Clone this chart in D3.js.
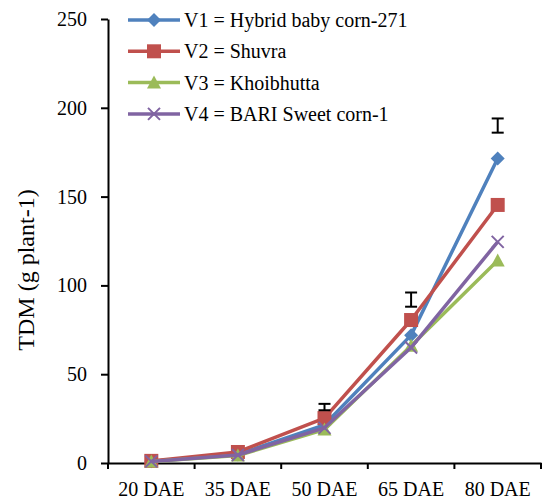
<!DOCTYPE html>
<html>
<head>
<meta charset="utf-8">
<script src="https://cdn.jsdelivr.net/npm/d3@7"></script>
<style>
  body { margin: 0; }
  text { font-family: "Liberation Serif", "Times New Roman", serif; }
</style>
</head>
<body>
<script>
const categories = ["20 DAE", "35 DAE", "50 DAE", "65 DAE", "80 DAE"]
const seriesNames = ["V1 = Hybrid baby corn-271", "V2 = Shuvra", "V3 = Khoibhutta", "V4 = BARI Sweet corn-1"]
const v1 = [1.0, 4.8, 21.5, 72, 171.5]
const v2 = [1.2, 6.2, 25.3, 80.5, 145.3]
const v3 = [0.8, 4.2, 18.8, 66, 114]
const v4 = [0.9, 4.5, 19.8, 65, 124.5]
// error bars (LSD) drawn above the points
const errCats = ["50 DAE", "65 DAE", "80 DAE"]
const errMid = [31.5, 92, 190]
const errHalf = [1.8, 4, 4]
const yTicks = [0, 50, 100, 150, 200, 250]

const colors = ["#4F81BD", "#C0504D", "#9BBB59", "#8064A2"]
const shapes = ["diamond", "square", "triangle", "cross"]

const width = 542, height = 501
const margin = {left: 108, right: 1, top: 19, bottom: 38}

const svg = d3.select("body").append("svg")
    .attr("width", width)
    .attr("height", height)

const x = d3.scaleBand()
    .domain(categories)
    .range([margin.left, width - margin.right])

const y = d3.scaleLinear()
    .domain([0, 250])
    .range([height - margin.bottom, margin.top])

// x axis, ticks sit on the category boundaries
let xAxis = svg.append("g")
    .attr("transform", `translate(0,${height - margin.bottom})`)
    .call(d3.axisBottom(x).tickSizeInner(0).tickSizeOuter(0).tickPadding(19))
xAxis.attr("font-family", null).attr("font-size", null)
xAxis.select(".domain").attr("stroke", "#000").attr("stroke-width", 2)
xAxis.selectAll("text")
    .attr("fill", "#000")
    .attr("font-family", "Liberation Serif")
    .attr("font-size", 20)
xAxis.selectAll(".bound")
    .data(categories.map(c => x(c)).concat([x.range()[1]]))
    .join("line")
    .attr("x1", d => d).attr("x2", d => d)
    .attr("y1", 0).attr("y2", 6)
    .attr("stroke", "#000").attr("stroke-width", 2)

let yAxis = svg.append("g")
    .attr("transform", `translate(${margin.left},0)`)
    .call(d3.axisLeft(y).tickValues(yTicks).tickSizeInner(7).tickSizeOuter(0).tickPadding(14))
yAxis.attr("font-family", null).attr("font-size", null)
yAxis.select(".domain").attr("stroke", "#000").attr("stroke-width", 2)
yAxis.selectAll(".tick line").attr("stroke", "#000").attr("stroke-width", 2)
yAxis.selectAll("text")
    .attr("fill", "#000")
    .attr("font-family", "Liberation Serif")
    .attr("font-size", 20)

svg.append("text")
    .attr("transform", "translate(34,270) rotate(-90)")
    .attr("text-anchor", "middle")
    .attr("font-family", "Liberation Serif")
    .attr("font-size", 24)
    .text("TDM (g plant-1)")

const cx = c => x(c) + x.bandwidth() / 2

const line = d3.line()
    .x((d, i) => cx(categories[i]))
    .y(d => y(d))

function marker(g, shape, color, px, py) {
    if (shape == "diamond") {
        g.append("path")
            .attr("d", `M${px},${py - 7}L${px + 7},${py}L${px},${py + 7}L${px - 7},${py}Z`)
            .attr("fill", color)
    } else if (shape == "square") {
        g.append("rect")
            .attr("x", px - 7).attr("y", py - 7)
            .attr("width", 14).attr("height", 14)
            .attr("fill", color)
    } else if (shape == "triangle") {
        g.append("path")
            .attr("d", `M${px},${py - 7}L${px + 7},${py + 6}L${px - 7},${py + 6}Z`)
            .attr("fill", color)
    } else {
        g.append("path")
            .attr("d", `M${px - 6},${py - 6}L${px + 6},${py + 6}M${px + 6},${py - 6}L${px - 6},${py + 6}`)
            .attr("stroke", color)
            .attr("stroke-width", 2)
    }
}

const allSeries = [v1, v2, v3, v4]
allSeries.forEach((vals, k) => {
    let g = svg.append("g")
    g.append("path")
        .attr("d", line(vals))
        .attr("fill", "none")
        .attr("stroke", colors[k])
        .attr("stroke-width", 3.5)
        .attr("stroke-linejoin", "round")
    vals.forEach((v, i) => marker(g, shapes[k], colors[k], cx(categories[i]), y(v)))
})

// error bars
let eb = svg.append("g").attr("stroke", "#000").attr("stroke-width", 2)
errCats.forEach((c, i) => {
    let px = cx(c)
    let top = y(errMid[i] + errHalf[i]), bot = y(errMid[i] - errHalf[i])
    eb.append("line").attr("x1", px).attr("x2", px).attr("y1", top).attr("y2", bot)
    eb.append("line").attr("x1", px - 6).attr("x2", px + 6).attr("y1", top).attr("y2", top)
    eb.append("line").attr("x1", px - 6).attr("x2", px + 6).attr("y1", bot).attr("y2", bot)
})

// legend
let legend = svg.append("g")
seriesNames.forEach((name, k) => {
    let ly = 20 + k * 31.3
    legend.append("line")
        .attr("x1", 128).attr("x2", 180)
        .attr("y1", ly).attr("y2", ly)
        .attr("stroke", colors[k]).attr("stroke-width", 3.5)
    marker(legend, shapes[k], colors[k], 154, ly)
    legend.append("text")
        .attr("x", 184).attr("y", ly)
        .attr("dy", "0.35em")
        .attr("font-family", "Liberation Serif")
        .attr("font-size", 20)
        .text(name)
})
</script>
</body>
</html>
